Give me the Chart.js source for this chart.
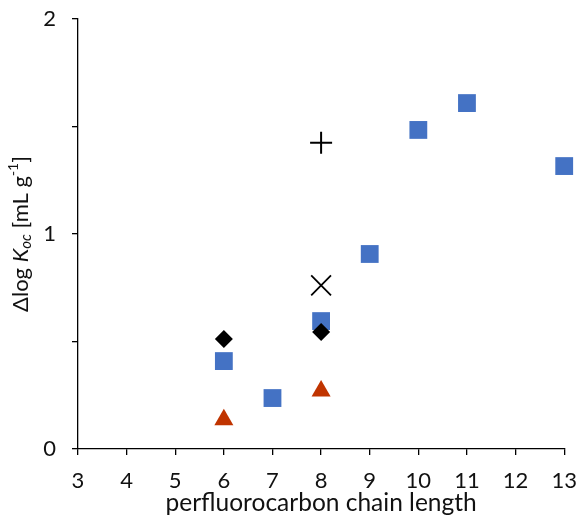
<!DOCTYPE html>
<html>
<head>
<meta charset="utf-8">
<script src="https://cdn.jsdelivr.net/npm/chart.js@4/dist/chart.umd.min.js"></script>
<style>
  html, body { margin: 0; padding: 0; background: #fff; }
  #wrap { width: 580px; height: 520px; }
</style>
</head>
<body>
<div id="wrap"><canvas id="chart" width="580" height="520"></canvas></div>
<script>
// data
const squareChain = [6, 7, 8, 9, 10, 11, 13];
const squareValues = [0.409, 0.237, 0.595, 0.907, 1.484, 1.609, 1.316];
const diamondChain = [6, 8];
const diamondValues = [0.512, 0.544];
const triangleChain = [6, 8];
const triangleValues = [0.136, 0.270];
const crossChain = [8];
const crossValues = [0.761];
const plusChain = [8];
const plusValues = [1.424];

const xTitle = 'perfluorocarbon chain length';
const FONT = 'Lato, "Open Sans", sans-serif';

const toPoints = (xs, ys) => xs.map((x, i) => ({ x: x, y: ys[i] }));

// keep the plot box where the reference has it: no label overhang padding
const noOverhang = (scale) => {
  scale.paddingTop = 0;
  scale.paddingBottom = 0;
  scale.paddingLeft = 0;
  scale.paddingRight = 0;
};

// y-axis title with italic K, subscript oc and superscript -1
const yTitlePlugin = {
  id: 'yTitle',
  afterDraw(chart) {
    const ctx = chart.ctx;
    const parts = [
      { t: '\u0394log ', style: '', size: 22, dy: 0 },
      { t: 'K', style: 'italic ', size: 22, dy: 0 },
      { t: 'oc', style: 'italic ', size: 15, dy: 5 },
      { t: ' [mL g', style: '', size: 22, dy: 0 },
      { t: '-1', style: '', size: 14, dy: -8 },
      { t: ']', style: '', size: 22, dy: 0 }
    ];
    ctx.save();
    let total = 0;
    parts.forEach(p => {
      ctx.font = p.style + p.size + 'px ' + FONT;
      p.w = ctx.measureText(p.t).width;
      total += p.w;
    });
    ctx.translate(21, (chart.chartArea.top + chart.chartArea.bottom) / 2);
    ctx.rotate(-Math.PI / 2);
    ctx.fillStyle = '#111';
    ctx.textBaseline = 'middle';
    let x = -total / 2;
    parts.forEach(p => {
      ctx.font = p.style + p.size + 'px ' + FONT;
      ctx.fillText(p.t, x, p.dy);
      x += p.w;
    });
    ctx.restore();
  }
};

new Chart(document.getElementById('chart'), {
  type: 'scatter',
  data: {
    datasets: [
      {
        label: 'diamond',
        data: toPoints(diamondChain, diamondValues),
        pointStyle: 'rectRot',
        radius: 9,
        backgroundColor: '#000',
        borderColor: '#000',
        borderWidth: 0
      },
      {
        label: 'square',
        data: toPoints(squareChain, squareValues),
        pointStyle: 'rect',
        radius: 12.6,
        backgroundColor: '#4472C4',
        borderColor: '#4472C4',
        borderWidth: 0
      },
      {
        label: 'triangle',
        data: toPoints(triangleChain, triangleValues),
        pointStyle: 'triangle',
        radius: 11,
        backgroundColor: '#C03400',
        borderColor: '#C03400',
        borderWidth: 0
      },
      {
        label: 'x',
        data: toPoints(crossChain, crossValues),
        pointStyle: 'crossRot',
        radius: 14,
        backgroundColor: '#000',
        borderColor: '#000',
        borderWidth: 1.8
      },
      {
        label: 'plus',
        data: toPoints(plusChain, plusValues),
        pointStyle: 'cross',
        radius: 11,
        backgroundColor: '#000',
        borderColor: '#000',
        borderWidth: 2
      }
    ]
  },
  options: {
    responsive: false,
    animation: false,
    events: [],
    clip: false,
    layout: { padding: { top: 19, right: 15, left: 0, bottom: 0 } },
    plugins: {
      legend: { display: false },
      tooltip: { enabled: false }
    },
    scales: {
      x: {
        type: 'linear',
        min: 3,
        max: 13,
        afterFit(scale) {
          scale.height = 71;
          noOverhang(scale);
        },
        ticks: {
          stepSize: 1,
          padding: 13,
          color: '#111',
          font: { family: FONT, size: 22 }
        },
        grid: {
          drawOnChartArea: false,
          drawTicks: true,
          tickLength: 6,
          color: '#000',
          lineWidth: 1.3
        },
        border: { color: '#000', width: 1.3 },
        title: {
          display: true,
          text: xTitle,
          color: '#111',
          padding: { top: 0, bottom: 2 },
          font: { family: FONT, size: 24.5 }
        }
      },
      y: {
        type: 'linear',
        min: 0,
        max: 2,
        afterFit(scale) {
          scale.width = 78;
          noOverhang(scale);
        },
        ticks: {
          stepSize: 0.5,
          padding: 16,
          color: '#111',
          font: { family: FONT, size: 22 },
          callback: v => (Number.isInteger(v) ? String(v) : '')
        },
        grid: {
          drawOnChartArea: false,
          drawTicks: true,
          tickLength: 6,
          color: '#000',
          lineWidth: 1.3
        },
        border: { color: '#000', width: 1.3 }
      }
    }
  },
  plugins: [yTitlePlugin]
});
</script>
</body>
</html>
